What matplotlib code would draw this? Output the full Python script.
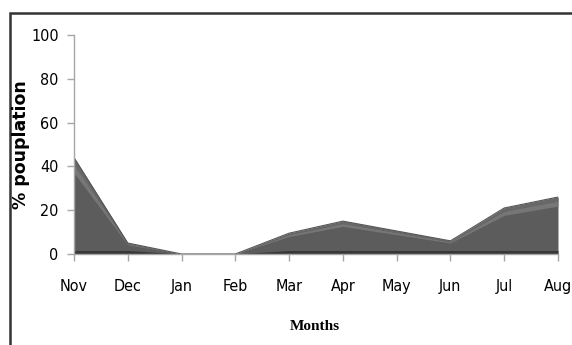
import numpy as np
import matplotlib
matplotlib.use('Agg')
import matplotlib.pyplot as plt
from matplotlib.patches import Rectangle


months = ['Nov', 'Dec', 'Jan', 'Feb', 'Mar', 'Apr', 'May', 'Jun', 'Jul', 'Aug']
pct_population = [44, 5, 0, 0, 9.5, 15, 10.5, 6, 21, 26]
y_ticks = [0, 20, 40, 60, 80, 100]


fig = plt.figure(figsize=(5.72, 3.45), dpi=100)
ax = fig.add_axes([0.1294, 0.2638, 0.8461, 0.6348])

x = np.arange(len(months))
y = np.array(pct_population, dtype=float)

# main body of the area, plus a soft ridge and a dark base to fake the 3D look
ax.fill_between(x, 0, y, color='#5c5c5c', lw=0)
ax.fill_between(x, y * 0.84, y * 0.93, color='#767676', lw=0)
ax.fill_between(x, y * 0.93, y, color='#686868', lw=0)
ax.fill_between(x, 0, np.minimum(y, 1.6), color='#383838', lw=0)
ax.plot(x, y, color='#555555', lw=0.8)

ax.set_xlim(0, len(months) - 1)
ax.set_ylim(0, 100)
ax.set_xticks(x)
ax.set_xticklabels(months, family='DejaVu Sans', stretch='condensed', fontsize=11.5)
ax.set_yticks(y_ticks)
ax.set_yticklabels([str(v) for v in y_ticks], family='DejaVu Sans',
                   stretch='condensed', fontsize=11.5)

for side in ['top', 'right']:
    ax.spines[side].set_visible(False)
for side in ['left', 'bottom']:
    ax.spines[side].set_color('#a6a6a6')
    ax.spines[side].set_linewidth(1.0)

ax.tick_params(axis='x', direction='out', length=5, width=1, color='#a6a6a6', pad=13)
ax.tick_params(axis='y', direction='out', length=5, width=1, color='#a6a6a6', pad=6)

fig.text(0.037, 0.58, '% pouplation', family='DejaVu Sans', fontweight='bold',
         fontsize=12.5, rotation=90, ha='center', va='center')
fig.text(0.551, 0.055, 'Months', family='Liberation Serif', fontweight='bold',
         fontsize=11, ha='center', va='center')

# frame around the figure, running off the right and bottom edges
fig.patches.append(Rectangle((10 / 572, -0.1), 1.2, 1.1 - 13.5 / 345,
                             transform=fig.transFigure, fill=False,
                             edgecolor='#333333', lw=1.8))

fig.savefig('out.png', dpi=100)
